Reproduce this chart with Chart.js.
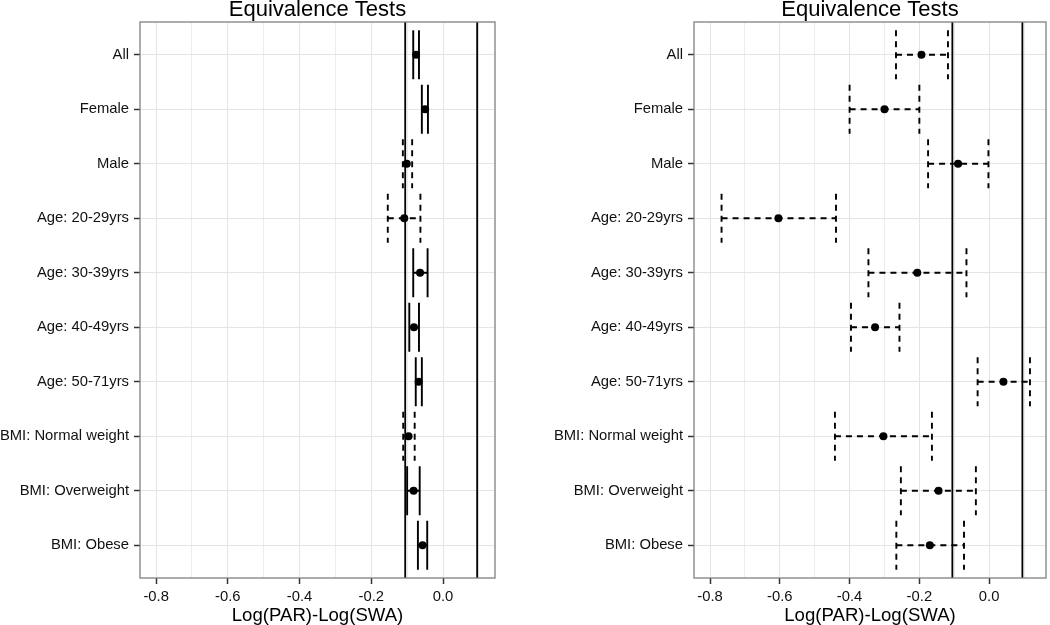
<!DOCTYPE html>
<html>
<head>
<meta charset="utf-8">
<title>Equivalence Tests</title>
<script src="https://cdn.jsdelivr.net/npm/chart.js@4.4.1/dist/chart.umd.min.js"></script>
<style>
  html, body { margin: 0; padding: 0; background: #fff; }
  #wrap { position: relative; width: 1050px; height: 625px; overflow: hidden; }
  canvas { position: absolute; top: 0; }
  #leftChart { left: 0; }
  #rightChart { left: 525px; }
</style>
</head>
<body>
<div id="wrap">
  <canvas id="leftChart" width="525" height="625"></canvas>
  <canvas id="rightChart" width="525" height="625"></canvas>
</div>
<script>
var categories = ["All", "Female", "Male", "Age: 20-29yrs", "Age: 30-39yrs", "Age: 40-49yrs",
                  "Age: 50-71yrs", "BMI: Normal weight", "BMI: Overweight", "BMI: Obese"];

// left panel: point estimate and interval ends
var leftEstimate = [-0.075, -0.050, -0.101, -0.108, -0.064, -0.081, -0.068, -0.096, -0.082, -0.057];
var leftLower    = [-0.083, -0.059, -0.112, -0.154, -0.083, -0.094, -0.076, -0.111, -0.100, -0.070];
var leftUpper    = [-0.067, -0.042, -0.086, -0.063, -0.043, -0.067, -0.059, -0.079, -0.065, -0.044];

// right panel
var rightEstimate = [-0.194, -0.300, -0.089, -0.604, -0.206, -0.327, 0.041, -0.303, -0.145, -0.170];
var rightLower    = [-0.267, -0.400, -0.175, -0.767, -0.346, -0.396, -0.033, -0.442, -0.253, -0.266];
var rightUpper    = [-0.118, -0.200, -0.002, -0.439, -0.065, -0.257, 0.117, -0.164, -0.038, -0.072];

// equivalence margins (log 0.9, log 1.1)
var equivBounds = [-0.1054, 0.0953];

var xMajorTicks = [-0.8, -0.6, -0.4, -0.2, 0.0];
var xMinorTicks = [-0.7, -0.5, -0.3, -0.1, 0.1];

var FONT = '"Liberation Sans", Arial, Helvetica, sans-serif';
var capHalf = 0.45;

var isMajor = function(v) {
  for (var i = 0; i < xMajorTicks.length; i++) {
    if (Math.abs(xMajorTicks[i] - v) < 1e-6) return true;
  }
  return false;
};

// caps + stem for every interval, split on whether it sits inside the margins
var buildBars = function(lower, upper, wantDashed) {
  var pts = [];
  for (var i = 0; i < categories.length; i++) {
    var dashed = lower[i] < equivBounds[0] || upper[i] > equivBounds[1];
    if (dashed !== wantDashed) continue;
    pts.push({x: lower[i], y: i - capHalf}, {x: lower[i], y: i + capHalf}, {x: lower[i], y: null});
    pts.push({x: lower[i], y: i}, {x: upper[i], y: i}, {x: upper[i], y: null});
    pts.push({x: upper[i], y: i - capHalf}, {x: upper[i], y: i + capHalf}, {x: upper[i], y: null});
  }
  return pts;
};

var buildBoundLines = function() {
  var pts = [];
  equivBounds.forEach(function(b) {
    pts.push({x: b, y: -0.6}, {x: b, y: categories.length - 0.4}, {x: b, y: null});
  });
  return pts;
};

var panelFrame = {
  id: 'panelFrame',
  afterDraw: function(chart, args, opts) {
    var a = chart.chartArea;
    var ctx = chart.ctx;
    ctx.save();
    ctx.strokeStyle = '#808080';
    ctx.lineWidth = 1.3;
    ctx.strokeRect(a.left, a.top, a.right - a.left, a.bottom - a.top);
    ctx.fillStyle = '#000';
    ctx.font = '22px ' + FONT;
    ctx.textAlign = 'center';
    ctx.textBaseline = 'alphabetic';
    ctx.fillText(opts.text, (a.left + a.right) / 2, 15.5);
    ctx.restore();
  }
};

var drawPanel = function(canvasId, estimate, lower, upper, xMin, xMax, yAxisWidth, padRight) {
  var points = estimate.map(function(v, i) { return {x: v, y: i}; });

  return new Chart(document.getElementById(canvasId), {
    type: 'scatter',
    data: {
      datasets: [
        {
          data: points,
          pointRadius: 4,
          pointBackgroundColor: '#000',
          pointBorderWidth: 0,
          showLine: false
        },
        {
          data: buildBars(lower, upper, false),
          showLine: true,
          borderColor: '#000',
          borderWidth: 1.9,
          pointRadius: 0,
          spanGaps: false
        },
        {
          data: buildBars(lower, upper, true),
          showLine: true,
          borderColor: '#000',
          borderWidth: 1.9,
          borderDash: [6, 5],
          pointRadius: 0,
          spanGaps: false
        },
        {
          data: buildBoundLines(),
          showLine: true,
          borderColor: '#000',
          borderWidth: 1.8,
          pointRadius: 0,
          spanGaps: false
        }
      ]
    },
    options: {
      responsive: false,
      animation: false,
      events: [],
      layout: { padding: { left: 0, right: padRight, top: 22, bottom: 0 } },
      plugins: {
        legend: { display: false },
        tooltip: { enabled: false },
        panelFrame: { text: 'Equivalence Tests' }
      },
      scales: {
        x: {
          type: 'linear',
          min: xMin,
          max: xMax,
          afterBuildTicks: function(axis) {
            axis.ticks = xMajorTicks.concat(xMinorTicks).sort(function(a, b) { return a - b; })
              .map(function(v) { return {value: v}; });
          },
          afterFit: function(axis) { axis.height = 47; },
          ticks: {
            autoSkip: false,
            maxRotation: 0,
            padding: 4,
            color: '#111',
            font: { family: FONT, size: 14.8 },
            callback: function(v) { return isMajor(v) ? (Math.round(v * 10) / 10).toFixed(1) : ''; }
          },
          grid: {
            color: function(ctx) { return ctx.tick && isMajor(ctx.tick.value) ? '#e4e4e4' : '#ececec'; },
            lineWidth: 1,
            tickLength: 6,
            tickWidth: 1.5,
            tickColor: function(ctx) { return ctx.tick && isMajor(ctx.tick.value) ? '#333' : 'rgba(0,0,0,0)'; }
          },
          border: { display: false },
          title: {
            display: true,
            text: 'Log(PAR)-Log(SWA)',
            color: '#000',
            font: { family: FONT, size: 18.6, lineHeight: 1 },
            padding: 0
          }
        },
        y: {
          type: 'linear',
          reverse: true,
          min: -0.6,
          max: categories.length - 0.4,
          afterBuildTicks: function(axis) {
            axis.ticks = categories.map(function(c, i) { return {value: i}; });
          },
          afterFit: function(axis) { axis.width = yAxisWidth; },
          ticks: {
            autoSkip: false,
            padding: 5,
            color: '#111',
            font: { family: FONT, size: 14.8 },
            callback: function(v) { return categories[v]; }
          },
          grid: {
            color: '#e4e4e4',
            lineWidth: 1,
            tickLength: 6,
            tickWidth: 1.5,
            tickColor: '#333'
          },
          border: { display: false }
        }
      }
    },
    plugins: [panelFrame]
  });
};

drawPanel('leftChart', leftEstimate, leftLower, leftUpper, -0.845, 0.145, 140, 30);
drawPanel('rightChart', rightEstimate, rightLower, rightUpper, -0.846, 0.163, 169, 1);
</script>
</body>
</html>
